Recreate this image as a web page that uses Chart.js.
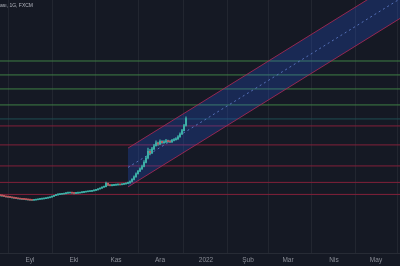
<!DOCTYPE html>
<html>
<head>
<meta charset="utf-8">
<script src="https://cdn.jsdelivr.net/npm/chart.js@4.4.0/dist/chart.umd.min.js"></script>
<style>
html, body { margin: 0; padding: 0; background: #151924; }
#wrap { width: 400px; height: 266px; }
</style>
</head>
<body>
<div id="wrap"><canvas id="myChart"></canvas></div>
<script>
// daily USD/TRY bars, index 0 = 11 Aug 2021, last = 20 Dec 2021
var closes = [8.72, 8.70, 8.66, 8.62, 8.60, 8.58, 8.55, 8.52, 8.50, 8.47,
    8.45, 8.43, 8.42, 8.40, 8.38, 8.36, 8.35, 8.37, 8.39, 8.42,
    8.44, 8.46, 8.48, 8.52, 8.55, 8.60, 8.66, 8.72, 8.78, 8.80,
    8.83, 8.85, 8.88, 8.92, 8.94, 8.96, 8.93, 8.90, 8.92, 8.94,
    8.97, 8.99, 9.02, 9.04, 9.06, 9.08, 9.12, 9.16, 9.20, 9.28,
    9.35, 9.44, 9.48, 9.78, 9.62, 9.58, 9.60, 9.62, 9.64, 9.66,
    9.65, 9.70, 9.72, 9.78, 9.82, 9.95, 10.15, 10.40, 10.70, 10.95,
    11.20, 11.45, 11.90, 12.40, 13.20, 13.00, 13.50, 13.90, 14.30, 14.10,
    14.50, 14.30, 14.40, 14.55, 14.45, 14.40, 14.60, 14.70, 14.80, 15.10,
    15.50, 16.00, 16.80, 17.90];
var highs = [8.76, 8.74, 8.72, 8.67, 8.64, 8.62, 8.60, 8.56, 8.54, 8.52,
    8.49, 8.47, 8.45, 8.44, 8.42, 8.40, 8.38, 8.40, 8.42, 8.45,
    8.47, 8.49, 8.51, 8.55, 8.58, 8.63, 8.69, 8.75, 8.82, 8.84,
    8.86, 8.88, 8.91, 8.95, 8.97, 8.99, 8.98, 8.95, 8.95, 8.97,
    9.00, 9.02, 9.05, 9.07, 9.09, 9.11, 9.15, 9.19, 9.24, 9.31,
    9.39, 9.47, 9.52, 9.90, 9.80, 9.65, 9.64, 9.66, 9.68, 9.70,
    9.70, 9.74, 9.76, 9.82, 9.90, 10.02, 10.22, 10.50, 10.80, 11.05,
    11.30, 11.60, 12.10, 12.60, 13.60, 13.45, 13.70, 14.10, 14.55, 14.40,
    14.70, 14.60, 14.60, 14.75, 14.65, 14.60, 14.75, 14.85, 14.95, 15.30,
    15.70, 16.20, 17.00, 18.20];
var lows = [8.68, 8.66, 8.63, 8.59, 8.57, 8.55, 8.52, 8.49, 8.47, 8.44,
    8.42, 8.40, 8.39, 8.37, 8.35, 8.33, 8.32, 8.33, 8.35, 8.38,
    8.41, 8.43, 8.45, 8.47, 8.51, 8.54, 8.59, 8.65, 8.71, 8.76,
    8.79, 8.81, 8.84, 8.87, 8.90, 8.92, 8.90, 8.87, 8.88, 8.90,
    8.92, 8.95, 8.97, 9.00, 9.02, 9.05, 9.07, 9.11, 9.14, 9.19,
    9.26, 9.33, 9.42, 9.47, 9.57, 9.54, 9.55, 9.57, 9.60, 9.62,
    9.61, 9.63, 9.67, 9.70, 9.76, 9.80, 9.92, 10.10, 10.35, 10.65,
    10.90, 11.15, 11.40, 11.85, 12.30, 12.75, 12.90, 13.40, 13.85, 13.95,
    14.05, 14.20, 14.20, 14.30, 14.35, 14.30, 14.35, 14.55, 14.65, 14.75,
    15.05, 15.45, 15.95, 16.70];
var firstOpen = 8.74;

// regression channel: bar index and price at start and end
var channelX = [64, 200];
var channelUpper = [13.6, 65.8];
var channelMid = [11.35, 54.9];
var channelLower = [9.46, 45.7];

// horizontal levels
var greenLevels = [30.7, 26.95, 23.64, 20.36];
var tealLevels = [17.86];
var redLevels = [16.73, 14.01, 11.51, 9.87, 8.82];

// time axis
var monthPos = [15, 37, 58, 80, 103, 124, 144, 167, 188];
var monthLabels = ["Eyl", "Eki", "Kas", "Ara", "2022", "Şub", "Mar", "Nis", "May"];

var bodies = [];
var wicks = [];
for (var i = 0; i < closes.length; i++) {
    var o = i === 0 ? firstOpen : closes[i - 1];
    bodies.push({ x: i, y: [o, closes[i]] });
    wicks.push({ x: i, y: [lows[i], highs[i]] });
}

function candleColor(ctx) {
    var v = ctx.raw;
    if (!v) return "#26a69a";
    return v.y[1] >= v.y[0] ? "#3fb8ad" : "#d9545a";
}

function line(a, b) {
    return [{ x: channelX[0], y: a }, { x: channelX[1], y: b }];
}

function levelSet(values, color) {
    return values.map(function (v) {
        return {
            type: "line",
            data: [{ x: -5, y: v }, { x: 205, y: v }],
            borderColor: color,
            backgroundColor: color,
            borderWidth: 1,
            pointRadius: 0,
            fill: false,
            order: 6
        };
    });
}

var datasets = [
    {
        type: "line",
        data: line(channelLower[0], channelLower[1]),
        borderColor: "rgba(170,40,85,0.85)",
        borderWidth: 1,
        pointRadius: 0,
        fill: false,
        order: 5
    },
    {
        type: "line",
        data: line(channelUpper[0], channelUpper[1]),
        borderColor: "rgba(170,40,85,0.85)",
        borderWidth: 1,
        pointRadius: 0,
        fill: "-1",
        backgroundColor: "rgba(41,98,255,0.22)",
        order: 5
    },
    {
        type: "line",
        data: line(channelMid[0], channelMid[1]),
        borderColor: "rgba(100,130,210,0.8)",
        borderWidth: 1,
        borderDash: [2, 3],
        pointRadius: 0,
        fill: false,
        order: 4
    }
].concat(levelSet(greenLevels, "#3f7f45"))
 .concat(levelSet(tealLevels, "#1f4d52"))
 .concat(levelSet(redLevels, "#82203a"))
 .concat([
    {
        type: "bar",
        data: wicks,
        backgroundColor: candleColor,
        barThickness: 0.6,
        grouped: false,
        order: 1
    },
    {
        type: "bar",
        data: bodies,
        backgroundColor: candleColor,
        barThickness: 1,
        minBarLength: 1,
        grouped: false,
        order: 0
    }
]);

var titlePlugin = {
    id: "titleText",
    afterDraw: function (chart) {
        var c = chart.ctx;
        c.save();
        c.font = "5px 'Liberation Sans', Arial, sans-serif";
        c.fillStyle = "#b2b5be";
        c.textAlign = "right";
        c.textBaseline = "middle";
        c.fillText("Amerikan Doları / Türk Lirası, 1G, FXCM", 33, 6);
        c.restore();
    }
};

var ctx = document.getElementById("myChart");

var myChart = new Chart(ctx, {
    type: "bar",
    data: { datasets: datasets },
    plugins: [titlePlugin],
    options: {
        responsive: true,
        maintainAspectRatio: false,
        animation: false,
        layout: { padding: 0 },
        plugins: {
            legend: { display: false },
            tooltip: { enabled: false }
        },
        scales: {
            x: {
                type: "linear",
                min: 0,
                max: 200,
                offset: false,
                afterFit: function (axis) { axis.height = 13; },
                afterBuildTicks: function (axis) {
                    axis.ticks = monthPos.map(function (v) { return { value: v }; });
                },
                ticks: {
                    autoSkip: false,
                    maxRotation: 0,
                    padding: 3,
                    color: "#8a8d96",
                    font: { size: 6.5, family: "'Liberation Sans', Arial, sans-serif" },
                    callback: function (v) {
                        var k = monthPos.indexOf(v);
                        return k >= 0 ? monthLabels[k] : "";
                    }
                },
                grid: { color: "rgba(255,255,255,0.06)", drawTicks: false },
                border: { color: "rgba(255,255,255,0.08)" }
            },
            y: {
                type: "logarithmic",
                position: "right",
                min: 5.1,
                max: 54.3,
                afterFit: function (axis) { axis.width = 0; },
                ticks: { display: false },
                grid: { display: false },
                border: { display: false }
            }
        }
    }
});
</script>
</body>
</html>
